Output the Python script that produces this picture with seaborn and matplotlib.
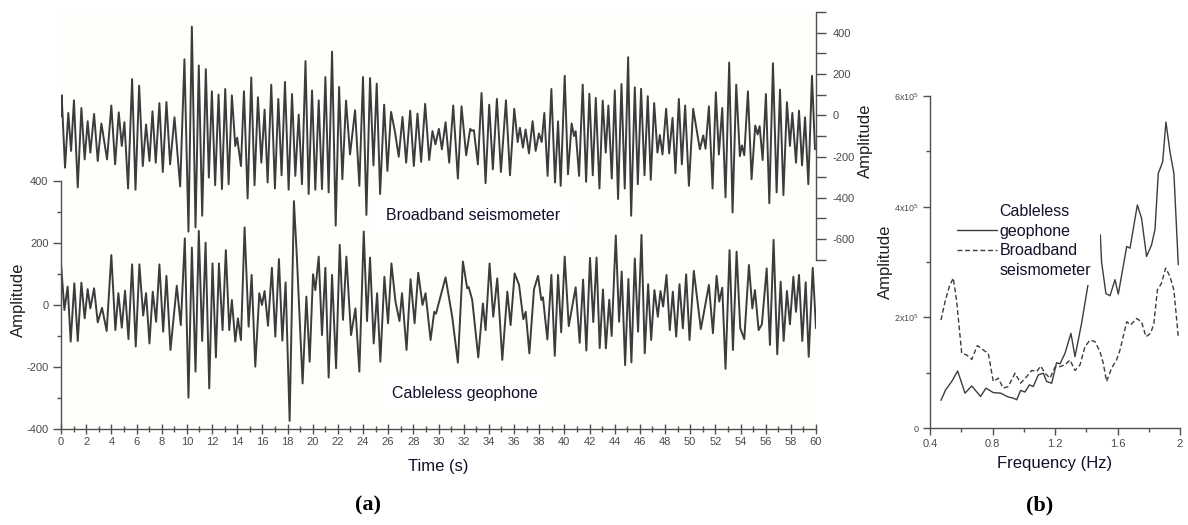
import matplotlib
matplotlib.use("Agg")
import matplotlib.pyplot as plt
import seaborn as sns
import numpy as np
from matplotlib.ticker import MultipleLocator, FixedLocator, FixedFormatter
from matplotlib.patches import Rectangle
from matplotlib.lines import Line2D

# ---------------- data: panel (a), broadband seismometer (right axis) -------------
bb_time = [0, 0.05, 0.32, 0.58, 0.8, 1.03, 1.33, 1.62, 1.88, 2.12, 2.33, 2.63, 2.92, 3.21, 3.66,
           4.0, 4.3, 4.59, 4.83, 5.04, 5.33, 5.65, 5.92, 6.21, 6.5, 6.76, 7.03, 7.27, 7.53, 7.82,
           8.09, 8.38, 8.67, 9.02, 9.47, 9.81, 10.13, 10.4, 10.69, 10.95, 11.22, 11.51, 11.75,
           11.99, 12.25, 12.52, 12.79, 13.05, 13.32, 13.58, 13.85, 14.0, 14.3, 14.54, 14.83,
           15.12, 15.38, 15.65, 15.92, 16.18, 16.42, 16.71, 17.0, 17.27, 17.53, 17.8, 18.09,
           18.36, 18.62, 18.89, 19.15, 19.43, 19.68, 19.95, 20.21, 20.48, 20.74, 21.01, 21.27,
           21.54, 21.83, 22.1, 22.36, 22.65, 22.97, 23.37, 23.71, 24.0, 24.27, 24.56, 24.83,
           25.09, 25.36, 25.68, 25.94, 26.23, 26.53, 26.84, 27.14, 27.43, 27.75, 28.04, 28.33,
           28.62, 28.94, 29.26, 29.52, 29.76, 30.03, 30.27, 30.56, 30.85, 31.17, 31.54, 31.83,
           32.2, 32.52, 32.65, 32.81, 33.13, 33.42, 33.74, 34.03, 34.32, 34.64, 34.96, 35.36,
           35.68, 36.02, 36.29, 36.47, 36.71, 36.92, 37.19, 37.48, 37.72, 37.98, 38.2, 38.41,
           38.67, 38.97, 39.26, 39.5, 39.71, 40.03, 40.29, 40.58, 40.77, 40.9, 41.17, 41.46,
           41.73, 41.99, 42.26, 42.5, 42.79, 43.05, 43.29, 43.5, 43.77, 44.01, 44.27, 44.54,
           44.8, 45.07, 45.31, 45.6, 45.84, 46.1, 46.37, 46.63, 46.87, 47.14, 47.4, 47.59,
           47.8, 48.09, 48.33, 48.6, 48.83, 49.1, 49.34, 49.6, 49.9, 50.24, 50.77, 51.04,
           51.22, 51.49, 51.78, 52.04, 52.28, 52.55, 52.81, 53.1, 53.37, 53.66, 53.95, 54.11,
           54.3, 54.59, 54.88, 55.17, 55.36, 55.52, 55.76, 56.02, 56.29, 56.58, 56.87, 57.14,
           57.41, 57.69, 57.93, 58.12, 58.41, 58.65, 58.89, 59.13, 59.39, 59.68, 59.92]
bb_amp = [-5, 96, -254, 11, -173, 72, -350, 35, -214, -29, -181, 6, -222, -40, -214,
          47, -238, 14, -149, -34, -355, 175, -361, 143, -246, -45, -222, 19, -230, 59,
          -275, 64, -238, -10, -345, 271, -564, 429, -543, 241, -487, 223, -302,
          116, -339, 100, -358, 127, -334, 96, -149, -109, -246, 116, -403,
          183, -339, 87, -230, 27, -326, 148, -355, 79, -291, 161, -361,
          103, -294, 3, -334, 262, -382, 120, -361, 72, -358, 185, -374,
          308, -535, 137, -310, 71, -190, 24, -342, 185, -483, 180, -243,
          153, -382, 51, -270, 16, -77, -201, -8, -230, 22, -246, 8,
          -226, 55, -217, -77, -141, -66, -165, -34, -230, 47, -307, 43,
          -194, -66, -75, -72, -238, 108, -329, 51, -262, 79, -275, 72,
          -291, 31, -130, -61, -157, -69, -185, -29, -173, -88, -130, 11,
          -294, 127, -326, -30, -342, 191, -286, -40, -101, -77, -294, 148,
          -323, 104, -291, 84, -355, 71, -181, 47, -307, 120, -406, 151,
          -355, 281, -487, 135, -334, 128, -291, 92, -313, 59, -181, -96,
          -190, 31, -185, -13, -281, 79, -238, 47, -342, 31, -165, -98,
          -162, 43, -355, 111, -190, 35, -398, 255, -471, 148, -198, -146,
          -194, 116, -310, -50, -93, -53, -217, 103, -426, 252, -374, 124,
          -387, 63, -149, 11, -230, 22, -243, -10, -334, 191, -165]

# ---------------- data: panel (a), cableless geophone (left axis) -----------------
cg_time = [0, 0.27, 0.53, 0.77, 1.06, 1.33, 1.62, 1.88, 2.12, 2.33, 2.63, 2.92, 3.26, 3.63,
           4.0, 4.32, 4.56, 4.83, 5.09, 5.36, 5.65, 5.94, 6.23, 6.53, 6.76, 7.03, 7.29, 7.56,
           7.82, 8.12, 8.38, 8.7, 9.2, 9.52, 9.84, 10.13, 10.4, 10.69, 10.95, 11.22, 11.49,
           11.78, 12.04, 12.31, 12.55, 12.84, 13.1, 13.37, 13.58, 13.85, 14.06, 14.3, 14.59,
           14.91, 15.15, 15.44, 15.76, 15.97, 16.18, 16.45, 16.76, 17.03, 17.32, 17.59, 17.85,
           18.17, 18.51, 18.75, 19.2, 19.5, 19.76, 20.03, 20.21, 20.48, 20.74, 21.01, 21.27,
           21.54, 21.86, 22.15, 22.41, 22.68, 23.05, 23.4, 23.71, 24.06, 24.32, 24.56, 24.85,
           25.12, 25.38, 25.7, 25.99, 26.26, 26.58, 26.9, 27.1, 27.46, 27.78, 28.1, 28.39,
           28.73, 28.97, 29.37, 29.66, 29.8, 30.56, 31.09, 31.54, 31.94, 32.28, 32.4, 32.68,
           33.16, 33.53, 33.74, 34.06, 34.35, 34.67, 35.07, 35.47, 35.73, 36.05, 36.4, 36.74,
           36.93, 37.22, 37.59, 37.91, 38.17, 38.3, 38.65, 38.97, 39.24, 39.5, 39.75, 40.03,
           40.35, 40.6, 40.9, 41.22, 41.49, 41.75, 42.04, 42.3, 42.56, 42.81, 43.07, 43.3,
           43.57, 43.76, 44.09, 44.35, 44.56, 44.83, 45.09, 45.33, 45.6, 45.86, 46.13, 46.39,
           46.66, 46.9, 47.16, 47.43, 47.64, 47.85, 48.12, 48.38, 48.62, 48.89, 49.15, 49.42,
           49.68, 49.95, 50.29, 50.85, 51.49, 51.81, 52.1, 52.31, 52.55, 52.81, 53.13, 53.4,
           53.69, 53.98, 54.3, 54.67, 54.94, 55.15, 55.44, 55.7, 56.08, 56.34, 56.63, 56.92,
           57.19, 57.43, 57.69, 57.93, 58.2, 58.41, 58.65, 58.91, 59.18, 59.42, 59.74, 60.0]
cg_amp = [134, -16, 59, -118, 70, -116, 72, -43, 51, -11, 54, -56, -9, -84,
          161, -81, 38, -73, 46, -110, 131, -134, 131, -34, 38, -124, 43, -54,
          131, -86, 94, -145, 62, -65, 215, -299, 185, -215, 239, -116, 201,
          -269, 134, -169, 134, -81, 177, -81, 16, -118, -43, -113, 250,
          -70, 97, -199, 38, 0, 45, -67, 120, -102, 148, -115, 73,
          -374, 335, 150, -253, 27, -183, 99, 48, 156, -97, 120, -234,
          97, -204, 194, -48, 156, -97, -11, -215, 237, -52, 153, -124,
          38, -183, 91, -59, 134, 11, -52, 38, -145, 83, -59, 104,
          0, 38, -113, -22, -28, 89, -38, -186, 140, 54, 58, 16,
          -169, 5, -81, 134, -38, 86, -177, 43, -65, 102, 65, -46,
          -22, -156, 51, 94, 16, 25, -111, 97, -164, 97, -88, 156,
          -68, -11, 57, -122, 82, -147, 152, -55, 153, -139, 50, -140,
          17, -100, 224, -54, 108, -194, 84, -185, 150, -86, 226, -156,
          67, -113, 48, -38, 45, -5, 97, -81, 43, -102, 67, -75,
          99, -113, 110, -78, 65, -91, 94, 11, 56, -206, 177, -145,
          172, -75, -110, 129, -11, 48, -81, -62, 118, -129, 210, -159,
          75, -116, 45, -62, 91, -22, 97, -116, 73, -167, 120, -75]

# ---------------- data: panel (b), spectra ------------------------------------------
geo_freq = [0.47, 0.50, 0.539, 0.577, 0.624, 0.667, 0.724, 0.758, 0.805, 0.852, 0.901, 0.933,
            0.955, 0.98, 1.008, 1.036, 1.061, 1.093, 1.125, 1.147, 1.179, 1.21, 1.232, 1.264,
            1.302, 1.328, 1.37, 1.413, 1.45, 1.49, 1.498, 1.526, 1.552, 1.584, 1.605, 1.659,
            1.68, 1.727, 1.754, 1.786, 1.818, 1.84, 1.861, 1.889, 1.91, 1.936, 1.961, 1.989]
geo_amp = [0.50, 0.69, 0.84, 1.03, 0.63, 0.76, 0.57, 0.72, 0.64, 0.63, 0.56, 0.54,
           0.51, 0.68, 0.65, 0.78, 0.75, 0.96, 0.99, 0.84, 0.81, 1.18, 1.16, 1.35,
           1.71, 1.29, 1.89, 2.62, 3.10, 3.49, 3.00, 2.43, 2.39, 2.68, 2.42, 3.28,
           3.25, 4.03, 3.79, 3.10, 3.31, 3.59, 4.60, 4.81, 5.53, 4.99, 4.60, 2.95]
bbs_freq = [0.47, 0.496, 0.524, 0.549, 0.571, 0.603, 0.635, 0.667, 0.703, 0.741, 0.773, 0.805,
            0.837, 0.869, 0.901, 0.944, 0.98, 1.019, 1.051, 1.083, 1.108, 1.136, 1.168, 1.2,
            1.232, 1.264, 1.296, 1.328, 1.36, 1.392, 1.424, 1.456, 1.488, 1.509, 1.53, 1.562,
            1.594, 1.616, 1.659, 1.684, 1.722, 1.754, 1.782, 1.812, 1.833, 1.855, 1.882, 1.908,
            1.936, 1.961, 1.989]
bbs_amp = [1.95, 2.28, 2.56, 2.71, 2.28, 1.35, 1.32, 1.24, 1.49, 1.41, 1.35, 0.84,
           0.90, 0.72, 0.75, 0.99, 0.81, 0.93, 1.04, 1.02, 1.12, 0.99, 0.90, 1.10,
           1.11, 1.14, 1.23, 1.04, 1.14, 1.47, 1.59, 1.56, 1.38, 1.17, 0.84, 1.08,
           1.23, 1.41, 1.92, 1.86, 1.98, 1.92, 1.65, 1.71, 1.89, 2.49, 2.62, 2.89,
           2.74, 2.49, 1.65]
amp_scale = 1e5

time_ticks = list(range(0, 61, 2))
left_ticks = [-400, -200, 0, 200, 400]
right_ticks = [-600, -400, -200, 0, 200, 400]
freq_ticks = [0.4, 0.8, 1.2, 1.6, 2.0]
freq_labels = ["0.4", "0.8", "1.2", "1.6", "2"]
spec_ticks = [0, 2e5, 4e5, 6e5]
spec_labels = ["0", r"2x10$^5$", r"4x10$^5$", r"6x10$^5$"]
legend_lines = ["Cableless", "geophone", "Broadband", "seismometer"]

# ---------------- styling ---------------------------------------------------------
sns.set_style("ticks")
plt.rcParams["font.family"] = ["Liberation Sans", "DejaVu Sans"]
plt.rcParams["axes.unicode_minus"] = False
plt.rcParams["mathtext.fontset"] = "custom"
plt.rcParams["mathtext.rm"] = "Liberation Sans"
plt.rcParams["mathtext.it"] = "Liberation Sans"

W, H = 1188, 525
fig = plt.figure(figsize=(W / 100, H / 100), dpi=100, facecolor="white")

def frac(x0, y0, x1, y1):
    return [x0 / W, 1 - y1 / H, (x1 - x0) / W, (y1 - y0) / H]

line_c = "#3c3c3c"
spine_c = "#505050"
tick_c = "#4a4a4a"
text_c = "#10102a"

# ---------------- panel (a) -------------------------------------------------------
ax = fig.add_axes(frac(61, 12, 816, 429))
ax.set_facecolor("#fefefb")
ax2 = ax.twinx()

sns.lineplot(x=cg_time, y=cg_amp, ax=ax, color=line_c, linewidth=1.4,
             estimator=None, sort=False)
sns.lineplot(x=bb_time, y=bb_amp, ax=ax2, color=line_c, linewidth=1.4,
             estimator=None, sort=False)

ax.set_xlim(0, 60)
ax.set_ylim(-400, 945)
ax2.set_ylim(-1520, 500)

for s in ["top", "right"]:
    ax.spines[s].set_visible(False)
for s in ["top", "left", "bottom"]:
    ax2.spines[s].set_visible(False)
ax.spines["left"].set_bounds(-400, 400)
ax2.spines["right"].set_bounds(-700, 500)
for sp in [ax.spines["left"], ax.spines["bottom"], ax2.spines["right"]]:
    sp.set_color(spine_c)
    sp.set_linewidth(1.0)

ax.xaxis.set_major_locator(FixedLocator(time_ticks))
ax.xaxis.set_minor_locator(MultipleLocator(1))
ax.yaxis.set_major_locator(FixedLocator(left_ticks))
ax.yaxis.set_minor_locator(FixedLocator([-300, -100, 100, 300]))
ax2.yaxis.set_major_locator(FixedLocator(right_ticks))
ax2.yaxis.set_minor_locator(FixedLocator([-700, -500, -300, -100, 100, 300, 500]))

ax.tick_params(axis="x", which="major", direction="inout", length=7, width=1,
               color=spine_c, labelsize=8, labelcolor=tick_c, pad=2)
ax.tick_params(axis="x", which="minor", direction="inout", length=4, width=1, color=spine_c)
ax.tick_params(axis="y", which="major", direction="out", length=6, width=1,
               color=spine_c, labelsize=8, labelcolor=tick_c, pad=3)
ax.tick_params(axis="y", which="minor", direction="out", length=3, width=1, color=spine_c)
ax2.tick_params(axis="y", which="major", direction="out", length=7, width=1,
                color=spine_c, labelsize=8, labelcolor=tick_c, pad=5)
ax2.tick_params(axis="y", which="minor", direction="out", length=7, width=1, color=spine_c)

ax.set_xlabel("Time (s)", fontsize=12, color=text_c)
ax.xaxis.set_label_coords(0.5, -0.072)
ax.set_ylabel("Amplitude", fontsize=12, color="#222222")
ax.yaxis.set_label_coords(-0.046, 0.31)
ax2.set_ylabel("Amplitude", fontsize=12, color="#222222")
ax2.yaxis.set_label_coords(1.056, 0.69)

ax2.text(0.4305, 0.513, "Broadband seismometer", transform=ax.transAxes, fontsize=11.5,
         color=text_c, ha="left", va="center", zorder=10,
         bbox=dict(facecolor="white", edgecolor="none", boxstyle="square,pad=0.6"))
ax2.text(0.438, 0.0863, "Cableless geophone", transform=ax.transAxes, fontsize=11.5,
         color=text_c, ha="left", va="center", zorder=10,
         bbox=dict(facecolor="white", edgecolor="none", boxstyle="square,pad=0.6"))

# ---------------- panel (b) -------------------------------------------------------
bx = fig.add_axes(frac(930, 96, 1180, 428))
bx.set_facecolor("white")
geo_y = [v * amp_scale for v in geo_amp]
bbs_y = [v * amp_scale for v in bbs_amp]
sns.lineplot(x=geo_freq, y=geo_y, ax=bx, color=line_c, linewidth=1.0,
             estimator=None, sort=False)
sns.lineplot(x=bbs_freq, y=bbs_y, ax=bx, color=line_c, linewidth=1.0,
             estimator=None, sort=False, linestyle=(0, (3.5, 2)))
bx.set_xlim(0.4, 2.0)
bx.set_ylim(0, 6e5)
for s in ["top", "right"]:
    bx.spines[s].set_visible(False)
for s in ["left", "bottom"]:
    bx.spines[s].set_color(spine_c)
    bx.spines[s].set_linewidth(1.0)
bx.xaxis.set_major_locator(FixedLocator(freq_ticks))
bx.xaxis.set_major_formatter(FixedFormatter(freq_labels))
bx.xaxis.set_minor_locator(FixedLocator([0.6, 1.0, 1.4, 1.8]))
bx.yaxis.set_major_locator(FixedLocator(spec_ticks))
bx.yaxis.set_major_formatter(FixedFormatter(spec_labels))
bx.yaxis.set_minor_locator(FixedLocator([1e5, 3e5, 5e5]))
bx.tick_params(axis="both", which="major", direction="out", length=5, width=1,
               color=spine_c, labelcolor=tick_c, pad=3)
bx.tick_params(axis="x", which="major", labelsize=8)
bx.tick_params(axis="y", which="major", labelsize=6.5)
bx.tick_params(axis="both", which="minor", direction="out", length=3, width=1, color=spine_c)
bx.set_xlabel("Frequency (Hz)", fontsize=12, color=text_c)
bx.xaxis.set_label_coords(0.5, -0.085)
bx.set_ylabel("Amplitude", fontsize=12, color="#222222")
bx.yaxis.set_label_coords(-0.148, 0.5)

bx.add_patch(Rectangle((0.26, 0.43), 0.42, 0.265, transform=bx.transAxes,
                       facecolor="white", edgecolor="none", zorder=3))
handles = [Line2D([], [], color="none", linewidth=0),
           Line2D([], [], color=line_c, linewidth=1.0),
           Line2D([], [], color=line_c, linewidth=1.0, linestyle=(0, (3.5, 2))),
           Line2D([], [], color="none", linewidth=0)]
leg = bx.legend(handles, legend_lines,
                loc="upper left", bbox_to_anchor=(0.108, 0.675), frameon=False,
                fontsize=11.5, handlelength=2.5, handletextpad=0.15, labelspacing=0.3,
                borderpad=0, borderaxespad=0)
for t in leg.get_texts():
    t.set_color(text_c)
leg.set_zorder(6)

# ---------------- panel captions --------------------------------------------------
fig.text(368 / W, 1 - 505 / H, "(a)", fontsize=16, fontweight="bold",
         family="Liberation Serif", ha="center", va="center", color="black")
fig.text(1040 / W, 1 - 505 / H, "(b)", fontsize=16, fontweight="bold",
         family="Liberation Serif", ha="center", va="center", color="black")

fig.savefig("out.png", dpi=100, facecolor="white")
